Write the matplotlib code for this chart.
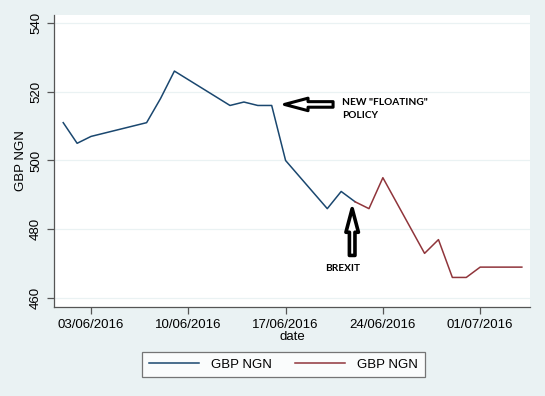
import matplotlib.pyplot as plt
import matplotlib.dates as mdates
from matplotlib.lines import Line2D
from datetime import datetime, timedelta

plt.rcParams['font.family'] = ['Liberation Sans', 'DejaVu Sans']

# blue series: before brexit
dates_before = ['2016-06-01', '2016-06-02', '2016-06-03', '2016-06-07', '2016-06-08',
                '2016-06-09', '2016-06-13', '2016-06-14', '2016-06-15', '2016-06-16',
                '2016-06-17', '2016-06-20', '2016-06-21', '2016-06-22']
rate_before = [511, 505, 507, 511, 518, 526, 516, 517, 516, 516, 500, 486, 491, 488]

# red series: after
dates_after = ['2016-06-22', '2016-06-23', '2016-06-24', '2016-06-27', '2016-06-28',
               '2016-06-29', '2016-06-30', '2016-07-01', '2016-07-04']
rate_after = [488, 486, 495, 473, 477, 466, 466, 469, 469]

tick_dates = ['2016-06-03', '2016-06-10', '2016-06-17', '2016-06-24', '2016-07-01']

to_dt = lambda lst: [datetime.strptime(d, '%Y-%m-%d') for d in lst]

bg = '#eaf2f3'
navy = '#1a476f'
maroon = '#90353b'

fig = plt.figure(figsize=(5.45, 3.96), dpi=100, facecolor=bg)
ax = fig.add_axes([0.099, 0.2247, 0.8734, 0.7374])
ax.set_facecolor('white')

ax.plot(to_dt(dates_before), rate_before, color=navy, lw=1.1)
ax.plot(to_dt(dates_after), rate_after, color=maroon, lw=1.1)

ax.set_ylim(457.4, 542.3)
ax.set_xlim(datetime(2016, 5, 31, 8), datetime(2016, 7, 4, 14))
ax.set_yticks([460, 480, 500, 520, 540])
ax.set_xticks(to_dt(tick_dates))
ax.xaxis.set_major_formatter(mdates.DateFormatter('%d/%m/%Y'))
ax.grid(axis='y', color=bg, lw=0.9)
ax.set_axisbelow(True)
for lab in ax.get_yticklabels():
    lab.set_rotation(90)
    lab.set_va('center')
ax.tick_params(axis='both', labelsize=9.5, colors='#555555', labelcolor='black',
               length=5, width=0.9)
for s in ['top', 'right']:
    ax.spines[s].set_visible(False)
for s in ['left', 'bottom']:
    ax.spines[s].set_color('#555555')
    ax.spines[s].set_linewidth(0.9)

ax.set_xlabel('date', fontsize=9.5, labelpad=0)
ax.set_ylabel('GBP NGN', fontsize=9.5, labelpad=2)

# annotations (hollow arrows)
style = 'simple,head_length=17,head_width=9,tail_width=4'
ax.annotate('', xy=(datetime(2016, 6, 16, 22), 516.3), xytext=(datetime(2016, 6, 20, 10), 516.3),
            arrowprops=dict(arrowstyle=style, mutation_scale=1, fc='white', ec='black', lw=2.2,
                            shrinkA=0, shrinkB=0))
ax.text(datetime(2016, 6, 21, 1), 515, 'NEW "FLOATING"\nPOLICY', fontsize=7.3, fontweight='bold',
        family='Lato', va='center', ha='left', linespacing=1.5)

ax.annotate('', xy=(datetime(2016, 6, 21, 19), 486), xytext=(datetime(2016, 6, 21, 19), 472.4),
            arrowprops=dict(arrowstyle=style, mutation_scale=1, fc='white', ec='black', lw=2.6,
                            shrinkA=0, shrinkB=0))
ax.text(datetime(2016, 6, 21, 3), 468.6, 'BREXIT', fontsize=7.3, fontweight='bold',
        family='Lato', va='center', ha='center')

handles = [Line2D([], [], color=navy, lw=1.1), Line2D([], [], color=maroon, lw=1.1)]
leg = fig.legend(handles, ['GBP NGN', 'GBP NGN'], ncol=2, loc='center',
                 bbox_to_anchor=(0.52, 0.0795), fontsize=9.5, frameon=True,
                 fancybox=False, handlelength=3.8, columnspacing=1.8, borderpad=0.5,
                 handletextpad=0.9)
leg.get_frame().set_edgecolor('#555555')
leg.get_frame().set_linewidth(0.9)

plt.savefig('out.png', dpi=100, facecolor=bg)
